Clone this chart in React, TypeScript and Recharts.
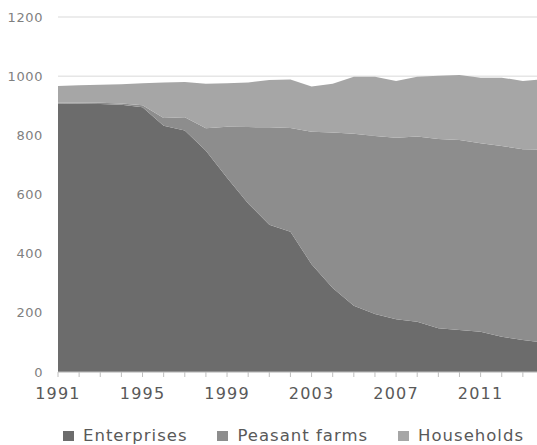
import React from 'react';
import { AreaChart, Area, XAxis, YAxis, CartesianGrid, Legend } from 'recharts';

const years = [1991, 1992, 1993, 1994, 1995, 1996, 1997, 1998, 1999, 2000, 2001, 2002, 2003, 2004, 2005, 2006, 2007, 2008, 2009, 2010, 2011, 2012, 2013, 2014];
const enterprises = [908, 907, 906, 903, 895, 832, 816, 748, 657, 570, 498, 474, 364, 284, 224, 196, 178, 170, 148, 142, 136, 119, 108, 99];
const peasantFarms = [2, 3, 4, 5, 7, 27, 45, 76, 172, 258, 329, 351, 448, 526, 581, 602, 614, 626, 640, 642, 637, 645, 645, 653];
const households = [57, 59, 61, 65, 74, 120, 119, 150, 147, 151, 160, 164, 153, 164, 193, 200, 192, 202, 213, 220, 222, 231, 231, 238];
const yTicks = [0, 200, 400, 600, 800, 1000, 1200];
const labeledYears = [1991, 1995, 1999, 2003, 2007, 2011];

const seriesNames = ['Enterprises', 'Peasant farms', 'Households'];
const seriesColors = ['#6c6c6c', '#8d8d8d', '#a6a6a6'];

const data = years.map((y, i) => ({
  year: y,
  Enterprises: enterprises[i],
  'Peasant farms': peasantFarms[i],
  Households: households[i],
}));

const XTick = (props: any) => {
  const { x, y, payload } = props;
  const v = payload && payload.value;
  return (
    <g>
      <line x1={x} x2={x} y1={y - 15} y2={y - 10} stroke="#bfbfbf" strokeWidth={1} />
      {labeledYears.includes(v) ? (
        <text
          x={x}
          y={y + 12}
          textAnchor="middle"
          fill="#595959"
          fontSize={16}
          fontFamily='"DejaVu Sans", sans-serif'
          letterSpacing={1.2}
        >
          {String(v)}
        </text>
      ) : null}
    </g>
  );
};

const renderLegend = () => (
  <div
    style={{
      display: 'flex',
      alignItems: 'center',
      paddingLeft: 63,
      fontFamily: '"DejaVu Sans", sans-serif',
      fontSize: 16.5,
      letterSpacing: 1,
      color: '#595959',
      whiteSpace: 'nowrap',
      lineHeight: 'normal',
    }}
  >
    {seriesNames.map((n, i) => (
      <span key={n} style={{ display: 'flex', alignItems: 'center', marginRight: 30 }}>
        <span style={{ display: 'inline-block', width: 11, height: 10, background: seriesColors[i], marginRight: 9 }} />
        <span>{n}</span>
      </span>
    ))}
  </div>
);

export default function App() {
  return (
    <div style={{ position: 'absolute', left: 0, top: 0, width: 537, height: 445, overflow: 'hidden', background: '#fff' }}>
      <AreaChart width={560} height={445} data={data} margin={{ top: 17, right: 16, bottom: 40, left: 0 }}>
        <CartesianGrid vertical={false} stroke="#d9d9d9" strokeWidth={1} />
        <XAxis
          dataKey="year"
          type="number"
          domain={[1991, 2014]}
          ticks={years}
          interval={0}
          height={33}
          tickSize={0}
          tickMargin={15}
          stroke="#bfbfbf"
          tickLine={false}
          tick={<XTick />}
        />
        <YAxis
          width={58}
          domain={[0, 1200]}
          ticks={yTicks}
          axisLine={false}
          tickLine={false}
          tickSize={6}
          tickMargin={9}
          tick={{ fill: '#7f7f7f', fontSize: 13, fontFamily: '"DejaVu Sans", sans-serif', letterSpacing: 0.6 }}
        />
        {seriesNames.map((n, i) => (
          <Area
            key={n}
            type="linear"
            dataKey={n}
            stackId="a"
            stroke="none"
            fill={seriesColors[i]}
            fillOpacity={1}
            isAnimationActive={false}
          />
        ))}
        <Legend
          layout="horizontal"
          verticalAlign="middle"
          align="center"
          content={renderLegend}
          wrapperStyle={{ left: 0, top: 426, width: 537, height: 20 }}
        />
      </AreaChart>
    </div>
  );
}
